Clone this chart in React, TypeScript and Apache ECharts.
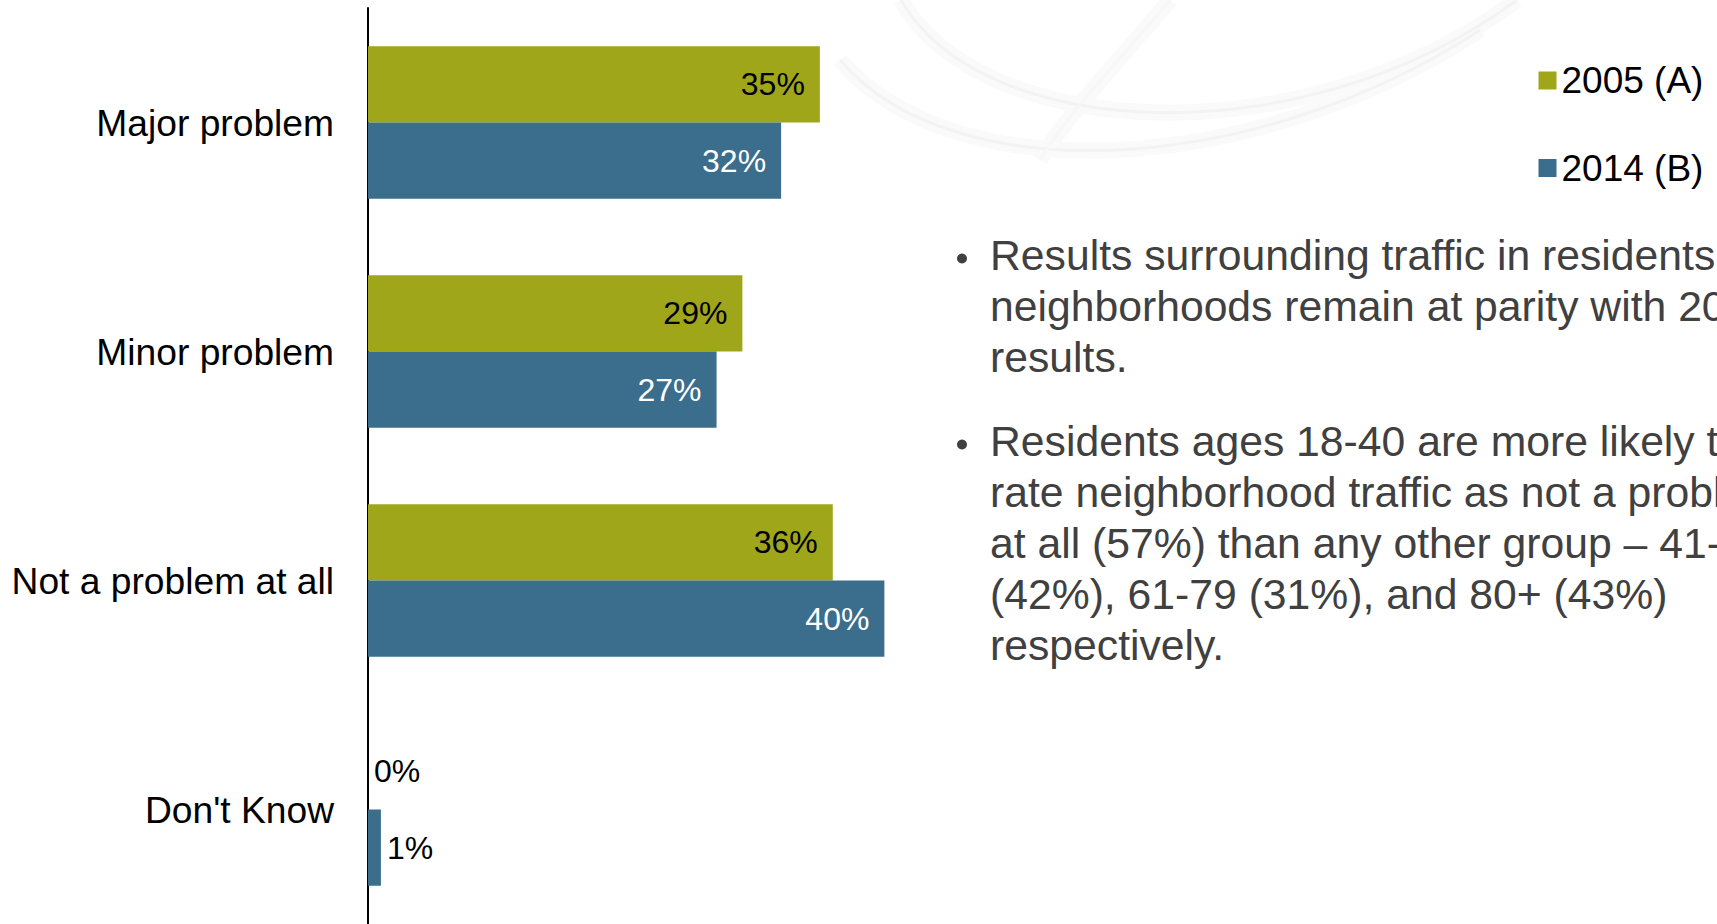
import React, { useEffect, useRef } from "react";
import * as echarts from "echarts";

const categories = ["Major problem", "Minor problem", "Not a problem at all", "Don't Know"];
const seriesNames = ["2005 (A)", "2014 (B)"];
const values2005 = [35, 29, 36, 0];
const values2014 = [32, 27, 40, 1];
const bulletOne = [
  "Results surrounding traffic in residents'",
  "neighborhoods remain at parity with 2005",
  "results.",
];
const bulletTwo = [
  "Residents ages 18-40 are more likely to",
  "rate neighborhood traffic as not a problem",
  "at all (57%) than any other group \u2013 41-60",
  "(42%), 61-79 (31%), and 80+ (43%)",
  "respectively.",
];

const GREEN = "#9FA61A";
const BLUE = "#3B6D8C";
const FONT = "'Liberation Sans', Arial, sans-serif";

function makeData(vals: number[], insideColor: string) {
  return vals.map((v) => ({
    value: v,
    label:
      v <= 2
        ? { position: "right", distance: 6, color: "#000" }
        : { position: "insideRight", distance: 15, color: insideColor },
  }));
}

export default function App() {
  const ref = useRef<HTMLDivElement>(null);
  useEffect(() => {
    if (!ref.current) return;
    const chart = echarts.init(ref.current, null, { renderer: "svg" });
    const textEls: any[] = [];
    const lineH = 51;
    const fs = 42.7;
    bulletOne.forEach((t, i) => {
      textEls.push({
        type: "text",
        left: 990,
        top: 258.5 - 25 + i * lineH,
        style: { text: t, font: `${fs}px ${FONT}`, fill: "#404040" },
      });
    });
    bulletTwo.forEach((t, i) => {
      textEls.push({
        type: "text",
        left: 990,
        top: 444.5 - 25 + i * lineH,
        style: { text: t, font: `${fs}px ${FONT}`, fill: "#404040" },
      });
    });
    textEls.push({ type: "circle", shape: { cx: 962, cy: 258.5, r: 5 }, style: { fill: "#404040" } });
    textEls.push({ type: "circle", shape: { cx: 962, cy: 444.5, r: 5 }, style: { fill: "#404040" } });
    const curves = [
      { x1: 901, y1: 0, cpx1: 980, cpy1: 140, cpx2: 1300, cpy2: 160, x2: 1517, y2: 0 },
      { x1: 840, y1: 60, cpx1: 950, cpy1: 190, cpx2: 1250, cpy2: 180, x2: 1480, y2: 30 },
      { x1: 1170, y1: 0, cpx1: 1120, cpy1: 60, cpx2: 1070, cpy2: 110, x2: 1040, y2: 160 },
    ];
    const swoosh: any[] = [];
    curves.forEach((s, i) => {
      swoosh.push({
        type: "bezierCurve",
        z: -10,
        silent: true,
        shape: s,
        style: { stroke: "#fafafa", lineWidth: 16, fill: null },
      });
      swoosh.push({
        type: "bezierCurve",
        z: -9,
        silent: true,
        shape: s,
        style: { stroke: i === 2 ? "#f7f7f7" : "#f3f3f3", lineWidth: 3, fill: null },
      });
    });

    chart.setOption({
      animation: false,
      backgroundColor: "#ffffff",
      textStyle: { fontFamily: FONT },
      grid: { left: 368, top: 8, width: 1291, height: 920 },
      legend: {
        orient: "vertical",
        left: 1533.5,
        top: 55.5,
        itemWidth: 18,
        itemHeight: 18,
        itemGap: 47.5,
        icon: "rect",
        data: seriesNames,
        textStyle: { fontSize: 37, color: "#000", lineHeight: 40, fontFamily: FONT },
      },
      xAxis: {
        type: "value",
        min: 0,
        max: 100,
        show: false,
      },
      yAxis: {
        type: "category",
        data: categories,
        inverse: true,
        axisLine: { show: true, lineStyle: { color: "#000", width: 2 } },
        axisTick: { show: false },
        axisLabel: { fontSize: 37.2, color: "#000", margin: 34, fontFamily: FONT },
      },
      graphic: [...swoosh, ...textEls],
      series: [
        {
          name: seriesNames[0],
          type: "bar",
          data: makeData(values2005, "#000"),
          itemStyle: { color: GREEN },
          barGap: "0%",
          barCategoryGap: "33.3%",
          label: { show: true, fontSize: 32, fontFamily: FONT, formatter: "{c}%" },
        },
        {
          name: seriesNames[1],
          type: "bar",
          data: makeData(values2014, "#fff"),
          itemStyle: { color: BLUE },
          barGap: "0%",
          barCategoryGap: "33.3%",
          label: { show: true, fontSize: 32, fontFamily: FONT, formatter: "{c}%" },
        },
      ],
    });
    return () => chart.dispose();
  }, []);
  return (
    <div
      ref={ref}
      style={{ position: "absolute", left: 0, top: 0, width: 1717, height: 924, overflow: "hidden" }}
    />
  );
}
